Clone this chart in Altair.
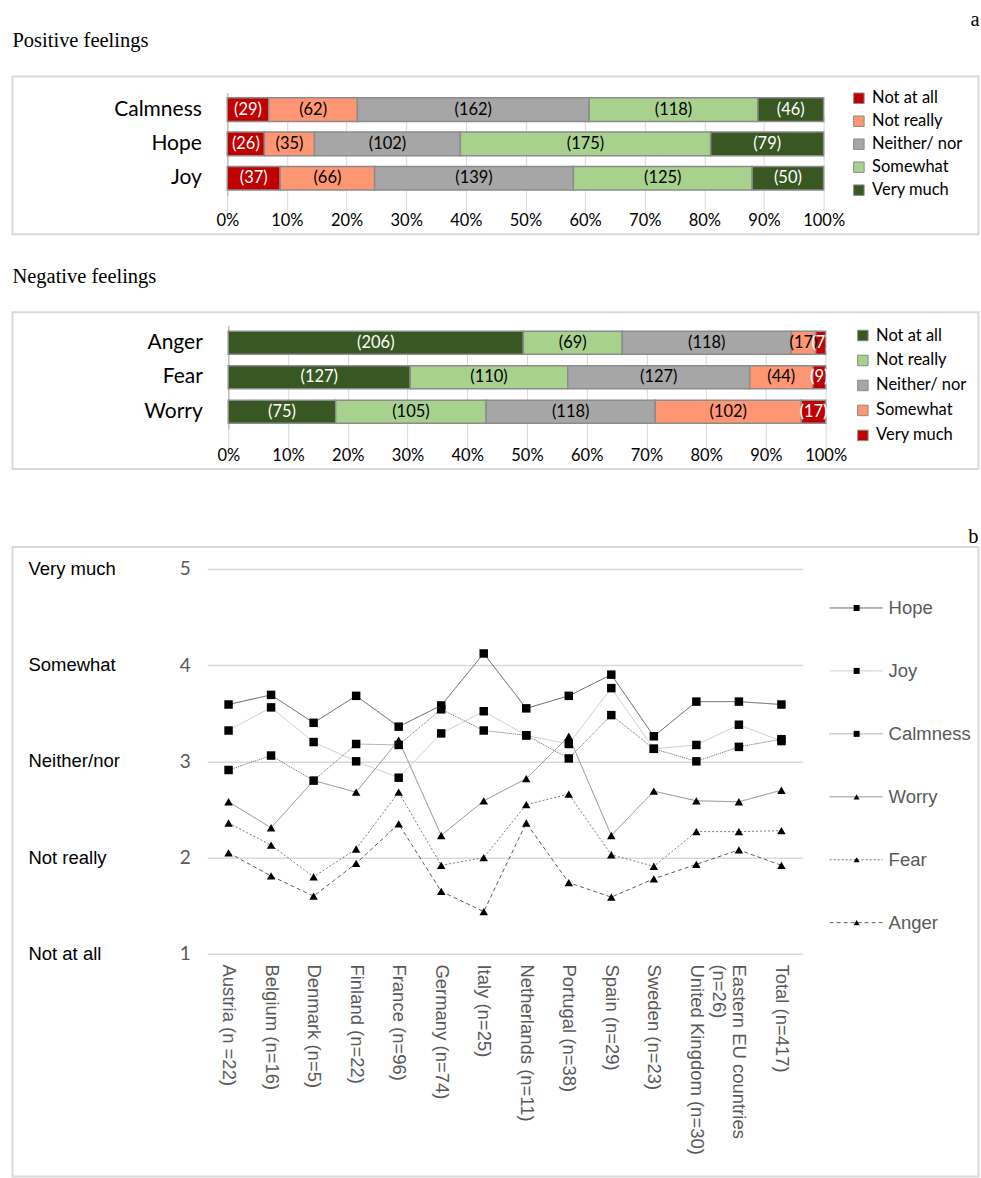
import altair as alt
import pandas as pd

# ---------------------------------------------------------------------------
# Panel a: answer counts per feeling
# ---------------------------------------------------------------------------
levels = ["Not at all", "Not really", "Neither/ nor", "Somewhat", "Very much"]

positive_names = ["Calmness", "Hope", "Joy"]
calmness_counts = [29, 62, 162, 118, 46]
hope_counts = [26, 35, 102, 175, 79]
joy_counts = [37, 66, 139, 125, 50]

negative_names = ["Anger", "Fear", "Worry"]
anger_counts = [206, 69, 118, 17, 7]
fear_counts = [127, 110, 127, 44, 9]
worry_counts = [75, 105, 118, 102, 17]

percent_ticks = [0, 0.1, 0.2, 0.3, 0.4, 0.5, 0.6, 0.7, 0.8, 0.9, 1.0]

# ---------------------------------------------------------------------------
# Panel b: mean scores per country
# ---------------------------------------------------------------------------
countries = [
    "Austria (n =22)", "Belgium (n=16)", "Denmark (n=5)", "Finland (n=22)",
    "France (n=96)", "Germany (n=74)", "Italy (n=25)", "Netherlands (n=11)",
    "Portugal (n=38)", "Spain (n=29)", "Sweden (n=23)",
    "United Kingdom (n=30)", "Eastern EU countries (n=26)", "Total (n=417)",
]
series_names = ["Hope", "Joy", "Calmness", "Worry", "Fear", "Anger"]
hope_means = [3.59, 3.69, 3.40, 3.68, 3.36, 3.58, 4.12, 3.55, 3.68, 3.90, 3.26, 3.62, 3.62, 3.59]
joy_means = [3.32, 3.56, 3.20, 3.00, 2.83, 3.29, 3.52, 3.27, 3.18, 3.76, 3.13, 3.17, 3.38, 3.21]
calmness_means = [2.91, 3.06, 2.80, 3.18, 3.17, 3.54, 3.32, 3.27, 3.03, 3.48, 3.13, 3.00, 3.15, 3.23]
worry_means = [2.58, 2.31, 2.80, 2.68, 3.22, 2.23, 2.59, 2.82, 3.26, 2.23, 2.69, 2.59, 2.58, 2.70]
fear_means = [2.36, 2.13, 1.80, 2.09, 2.68, 1.92, 2.00, 2.55, 2.66, 2.03, 1.91, 2.27, 2.27, 2.28]
anger_means = [2.05, 1.81, 1.60, 1.94, 2.35, 1.65, 1.44, 2.36, 1.74, 1.59, 1.78, 1.93, 2.08, 1.92]

score_values = [1, 2, 3, 4, 5]
score_words = ["Not at all", "Not really", "Neither/nor", "Somewhat", "Very much"]

# ---------------------------------------------------------------------------
# Styling
# ---------------------------------------------------------------------------
SANS_C = "Lato"
ARIAL = "Liberation Sans"
SERIF = "Liberation Serif"
GRID = "#d9d9d9"

positive_colors = ["#C00000", "#FF9673", "#A6A6A6", "#A9D18E", "#385723"]
negative_colors = ["#385723", "#A9D18E", "#A6A6A6", "#FF9673", "#C00000"]

line_colors = ["#595959", "#c8c8c8", "#6a6a6a", "#8a8a8a", "#7a7a7a", "#595959"]
line_dashes = [[1, 0], [1, 0], [1, 1], [1, 0], [2, 2], [4, 3]]
marker_shapes = ["square", "square", "square", "triangle-up", "triangle-up", "triangle-up"]

BOX_W = 967


def bar_panel(names, count_lists, colors, title_text, height, x_range, y_range,
              pad_inner, axis_offset, legend_x, legend_y, legend_row_pad):
    rows = [
        {"feeling": n, "level": lvl, "rank": i, "count": c}
        for n, counts in zip(names, count_lists)
        for i, (lvl, c) in enumerate(zip(levels, counts))
    ]
    base = alt.Chart(pd.DataFrame(rows)).transform_stack(
        stack="count",
        groupby=["feeling"],
        as_=["x0", "x1"],
        offset="normalize",
        sort=[alt.SortField("rank", order="ascending")],
    ).transform_calculate(
        mid="(datum.x0 + datum.x1) / 2",
        label="'(' + datum.count + ')'",
    )
    x_scale = alt.Scale(domain=[0, 1], range=x_range, nice=False, zero=False)
    y_enc = alt.Y(
        "feeling:N", sort=names, title=None,
        scale=alt.Scale(range=y_range, paddingInner=pad_inner, paddingOuter=pad_inner / 2),
        axis=alt.Axis(orient="left", offset=-x_range[0], ticks=False, domain=True,
                      domainColor="#bfbfbf", domainWidth=1.5, grid=False,
                      labelFont=SANS_C, labelFontSize=21, labelColor="black",
                      labelPadding=26),
    )
    bars = base.mark_bar(stroke="#8c8c8c", strokeWidth=1.5).encode(
        x=alt.X("x0:Q", scale=x_scale, title=None,
                axis=alt.Axis(values=percent_ticks, format=".0%", orient="bottom",
                              offset=axis_offset, ticks=False, domain=False,
                              grid=True, gridColor=GRID, gridWidth=1,
                              labelFont=SANS_C, labelFontSize=16.5, labelColor="black",
                              labelPadding=0, labelBaseline="middle",
                              labelFlush=False, labelOverlap=False)),
        x2="x1:Q",
        y=y_enc,
        color=alt.Color(
            "level:N",
            scale=alt.Scale(domain=levels, range=colors),
            legend=alt.Legend(orient="none", legendX=legend_x, legendY=legend_y,
                              title=None, direction="vertical", symbolType="square",
                              symbolSize=110, symbolStrokeColor="#8c8c8c",
                              symbolStrokeWidth=1, symbolOpacity=1,
                              labelFont=SANS_C, labelFontSize=16.5, labelColor="black",
                              rowPadding=legend_row_pad, labelOffset=5),
        ),
    )
    labels = base.mark_text(font=SANS_C, fontSize=16.5).encode(
        x=alt.X("mid:Q", scale=x_scale),
        y=alt.Y("feeling:N", sort=names),
        text="label:N",
        color=alt.condition(
            "datum.level == 'Not at all' || datum.level == 'Very much'",
            alt.value("white"), alt.value("black")),
    )
    return alt.layer(bars, labels).properties(
        width=BOX_W, height=height,
        title=alt.TitleParams(title_text, anchor="start", font=SERIF, fontSize=20.5,
                              fontWeight="normal", color="black", offset=25),
    )


panel_pos = bar_panel(
    positive_names, [calmness_counts, hope_counts, joy_counts], positive_colors,
    "Positive feelings", 158, [215, 812], [16, 119], 0.31, -13.5, 839, 13.5, 6)

panel_neg = bar_panel(
    negative_names, [anger_counts, fear_counts, worry_counts], negative_colors,
    "Negative feelings", 157, [216, 814], [13.25, 116.75], 0.333, -14, 843, 15, 8)

# ---------------------------------------------------------------------------
# Panel b
# ---------------------------------------------------------------------------
all_means = [hope_means, joy_means, calmness_means, worry_means, fear_means, anger_means]
long_rows = [
    {"country": c, "series": s, "value": v}
    for s, vals in zip(series_names, all_means)
    for c, v in zip(countries, vals)
]
means = alt.Chart(pd.DataFrame(long_rows))

wrapped = "Eastern EU countries (n=26)"
label_expr = (
    f"datum.label == '{wrapped}' ? "
    f"['Eastern EU countries', '{chr(160) * 12}(n=26)'] : datum.label"
)

C_H = 630
y_lo, y_hi = 407.3, 21.7
y_scale_c = alt.Scale(domain=[1, 5], range=[y_lo, y_hi], nice=False, zero=False)

x_c = alt.X(
    "country:N", sort=countries, title=None,
    scale=alt.Scale(type="point", range=[195, 791], padding=0.5),
    axis=alt.Axis(orient="bottom", offset=y_lo - C_H, labelAngle=90, labelAlign="left",
                  labelBaseline="middle", labelPadding=10, labelFont=ARIAL,
                  labelFontSize=18.5, labelColor="#595959", labelLimit=400,
                  labelOverlap=False, ticks=False, domain=False, grid=False,
                  labelExpr=label_expr),
)
y_c = alt.Y(
    "value:Q", title=None, scale=y_scale_c,
    axis=alt.Axis(orient="left", offset=-195, values=score_values, format="d",
                  ticks=False, domain=False, grid=True, gridColor=GRID, gridWidth=1.5,
                  labelFont=SANS_C, labelFontSize=19, labelColor="#595959",
                  labelPadding=17),
)
color_c = alt.Color("series:N", scale=alt.Scale(domain=series_names, range=line_colors),
                    legend=None)
dash_c = alt.StrokeDash("series:N", scale=alt.Scale(domain=series_names, range=line_dashes),
                        legend=None)
shape_c = alt.Shape("series:N", scale=alt.Scale(domain=series_names, range=marker_shapes),
                    legend=None)

lines = means.mark_line(strokeWidth=1).encode(
    x=x_c, y=y_c, color=color_c, strokeDash=dash_c, detail="series:N")
markers = means.mark_point(filled=True, color="black", opacity=1, size=72).encode(
    x=x_c, y=y_c, shape=shape_c)
words = alt.Chart(pd.DataFrame({"score": score_values, "word": score_words})).mark_text(
    align="left", baseline="middle", font=ARIAL, fontSize=18.5, color="black"
).encode(x=alt.value(16), y=alt.Y("score:Q", scale=y_scale_c, title=None), text="word:N")

key = alt.Chart(pd.DataFrame({"series": series_names}))
key_y = alt.Y("series:N", sort=series_names, title=None, axis=None,
              scale=alt.Scale(type="point", domain=series_names, range=[61, 376], padding=0))
key_rule = key.mark_rule(strokeWidth=1).encode(
    x=alt.value(818), x2=alt.value(871), y=key_y, color=color_c, strokeDash=dash_c)
key_mark = key.mark_point(filled=True, color="black", opacity=1, size=36).encode(
    x=alt.value(845), y=key_y, shape=shape_c)
key_text = key.mark_text(align="left", baseline="middle", font=ARIAL, fontSize=18.5,
                         color="#595959").encode(x=alt.value(877), y=key_y, text="series:N")

panel_means = alt.layer(
    alt.layer(lines, markers, words),
    alt.layer(key_rule, key_mark, key_text),
).resolve_scale(y="independent").properties(
    width=BOX_W, height=C_H,
    title=alt.TitleParams("b", anchor="end", font=SERIF, fontSize=20.5,
                          fontWeight="normal", color="black", offset=0),
)

chart = alt.vconcat(
    panel_pos, panel_neg, panel_means, spacing=78, bounds="flush",
    title=alt.TitleParams("a", anchor="end", font=SERIF, fontSize=20.5,
                          fontWeight="normal", color="black", offset=0),
).resolve_scale(
    x="independent", y="independent", color="independent",
    shape="independent", strokeDash="independent",
).resolve_legend(color="independent").configure_view(
    stroke=GRID, strokeWidth=2
).properties(
    padding={"left": 11.5, "top": 9, "right": 1.5, "bottom": 0}
)

chart.save("out.html", embed_options={"renderer": "svg", "actions": False})
